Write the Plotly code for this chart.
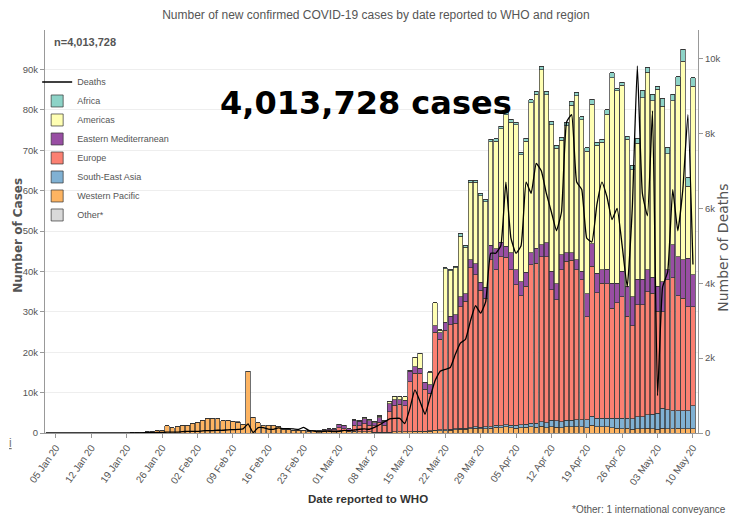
import pandas as pd
import plotly.graph_objects as go

dates = pd.date_range("2020-01-03", "2020-05-10", freq="D")

# daily new cases by region (Jan 3 .. May 10)
western_pacific = (
    [0] * 17 + [80, 150, 150, 260, 450, 600, 700, 1800, 1300, 1500, 1800, 1900]  # Jan
    + [2400, 2600, 3000, 3500, 3600, 3600, 3000, 3200, 2900, 2700, 2200, 15200, 3900, 2600,
       1800, 1800, 1800, 1500, 850, 850, 700, 600, 650, 450, 500, 450, 450, 500, 550]  # Feb
    + [600, 500, 300, 400, 350, 300, 250, 200, 200, 150, 200, 250, 250, 250, 300, 300, 300,
       350, 400, 500, 600, 600, 700, 750, 900, 900, 1000, 1200, 1100, 1100, 1200]  # Mar
    + [1400, 1300, 1500, 1300, 1200, 1300, 1400, 1500, 1400, 1700, 1300, 1500, 1400, 1300, 1600,
       1500, 1600, 1500, 1300, 1900, 1600, 1500, 1500, 1300, 1200, 1100, 1200, 900, 1100, 1000]  # Apr
    + [1200, 1000, 900, 1200, 1000, 1100, 1200, 1100, 1000, 1100]  # May
)
south_east_asia = (
    [0] * 29 + [0] * 29
    + [0, 0, 0, 5, 5, 10, 10, 10, 10, 10, 20, 20, 20, 30, 50, 100, 100, 100, 100, 150, 150,
       200, 200, 250, 250, 300, 300, 300, 350, 400, 400]
    + [500, 500, 500, 600, 700, 700, 800, 900, 1000, 1100, 1200, 1700, 1600, 1500, 1500,
       1600, 1700, 1800, 2000, 2200, 2000, 2100, 2200, 2300, 2400, 2500, 2400, 2600, 2900, 3000]
    + [3300, 3600, 4000, 4900, 4700, 4400, 4300, 4400, 4500, 5600]
)
europe = (
    [0] * 29
    + [0] * 21 + [20, 60, 150, 100, 150, 250, 300, 300]
    + [700, 600, 400, 1500, 1400, 2000, 1700, 1600, 2400, 1800, 5100, 6600, 6800, 6500, 12300,
       14400, 14400, 10350, 9300, 24350, 22500, 24600, 25900, 26200, 30150, 31400, 39600, 37700,
       33850, 31900, 41300]
    + [38500, 41900, 41500, 38500, 34800, 32000, 34100, 39300, 39700, 40900, 41200, 32300, 30000,
       37600, 39400, 39700, 37100, 34700, 25500, 37200, 31100, 33500, 33300, 27300, 28600, 30200,
       25300, 23000, 27800, 27800]
    + [30500, 30000, 25200, 23900, 32300, 32900, 28500, 27900, 25800, 24600]
)
eastern_med = (
    [0] * 29
    + [0] * 20 + [5, 10, 30, 40, 50, 100, 150, 200, 200]
    + [800, 800, 300, 1300, 1100, 1200, 1100, 700, 1200, 900, 1900, 1400, 1200, 1300, 2700, 1650,
       1250, 1650, 2100, 1500, 1600, 2000, 2100, 2100, 2400, 1900, 2000, 2700, 2000, 2700, 3600]
    + [5200, 3500, 2800, 4200, 3700, 3500, 3500, 2900, 3700, 2900, 3400, 4500, 4000, 3800, 2200,
       1900, 2500, 2000, 5700, 5600, 4900, 3300, 3600, 6200, 4900, 6200, 7400, 7300, 6300, 6300]
    + [5400, 4000, 6200, 7500, 2400, 8200, 9700, 9500, 12000, 7900]
)
americas = (
    [0] * 29
    + [0] * 28 + [20]
    + [50, 50, 50, 100, 150, 250, 300, 300, 400, 300, 600, 700, 750, 900, 200, 2300, 3600, 100,
       3200, 5700, 600, 13300, 11300, 11600, 15000, 11500, 19200, 20200, 21400, 21200, 25600]
    + [26700, 28200, 32500, 32400, 35900, 31400, 32500, 37200, 38100, 43300, 36700, 36300, 33500,
       28350, 31400, 36500, 40600, 37600, 35300, 34500, 31700, 31600, 38300, 50900, 47600, 46100,
       36500, 31400, 33600, 44900]
    + [48900, 43700, 48800, 43400, 28800, 35700, 42400, 49200, 17800, 46700]
)
africa = (
    [0] * 29 + [0] * 29
    + [0, 0, 0, 0, 5, 5, 10, 10, 10, 20, 20, 30, 30, 40, 50, 60, 60, 80, 100, 100, 100, 200, 200,
       400, 600, 500, 500, 500, 500, 500, 600]
    + [600, 600, 700, 700, 700, 600, 700, 700, 700, 800, 800, 800, 800, 750, 700, 800, 900, 700,
       800, 1200, 700, 700, 1200, 1200, 600, 800, 700, 1000, 1200, 1700]
    + [1200, 1600, 800, 1900, 1400, 1600, 2100, 2900, 2100, 2100]
)
other = (
    [0] * 29
    + [0, 0, 0, 0, 10, 10, 41, 3, 6, 65, 0, 39, 44, 0, 67, 70, 99, 88, 79, 13, 0, 57, 0, 0, 0, 14, 0, 0, 0]
    + [0] * 31 + [0] * 30 + [0] * 10
)
deaths = (
    [0] * 18 + [3, 6, 9, 8, 16, 15, 24, 26, 26, 38, 43]
    + [46, 45, 57, 64, 66, 73, 73, 86, 89, 97, 108, 245, 10, 145, 142, 105, 98, 136, 115, 118,
       109, 97, 150, 71, 52, 29, 44, 47, 35]
    + [42, 70, 60, 80, 100, 110, 100, 150, 220, 300, 380, 390, 390, 250, 650, 1150, 850, 500, 950,
       1400, 1650, 1700, 1750, 2100, 2400, 2500, 3000, 3400, 3200, 3500, 4800]
    + [4800, 5000, 6700, 5200, 4800, 5000, 6700, 6400, 7200, 7000, 6400, 5900, 5400, 5900, 8300,
       8500, 6700, 6500, 5200, 5100, 6100, 6700, 6300, 5700, 6000, 5000, 3900, 6000, 9800, 6400]
    + [5800, 8600, 1000, 3900, 4300, 6500, 5400, 6500, 8500, 4500]
)

SANS = "Liberation Sans, Arial, sans-serif"
GREY = "#555555"

regions = [
    ("Western Pacific", western_pacific, "#fdb462", 7),
    ("South-East Asia", south_east_asia, "#80b1d3", 6),
    ("Europe", europe, "#fb8072", 5),
    ("Eastern Mediterranean", eastern_med, "#984ea3", 4),
    ("Americas", americas, "#ffffb3", 3),
    ("Africa", africa, "#8dd3c7", 2),
    ("Other*", other, "#d9d9d9", 8),
]

fig = go.Figure()
for name, vals, color, rank in regions:
    fig.add_bar(x=dates, y=vals, name=name, legendrank=rank,
                marker=dict(color=color, line=dict(color="#333333", width=0.7)))

fig.add_scatter(x=dates, y=deaths, name="Deaths", yaxis="y2", mode="lines",
                line=dict(color="black", width=1.3, shape="spline", smoothing=0.4),
                legendrank=1)

# page body has an 8px margin, so the figure is 730x511 and sits at (8, 8)
fig.update_layout(
    width=730, height=511,
    barmode="stack", bargap=0.12,
    plot_bgcolor="white", paper_bgcolor="white",
    margin=dict(l=37, r=40, t=22, b=86),
    title=dict(text="Number of new confirmed COVID-19 cases by date reported to WHO and region",
               x=0.504, xanchor="center", y=0.994, yanchor="top", pad=dict(t=0),
               font=dict(family=SANS, size=12, color=GREY)),
    font=dict(family=SANS, size=10, color=GREY),
    legend=dict(x=-0.012, y=0.907, xanchor="left", yanchor="top", bgcolor="rgba(0,0,0,0)",
                font=dict(family=SANS, size=9, color=GREY), traceorder="normal"),
    xaxis=dict(type="date", range=["2020-01-02 20:00", "2020-05-11 00:00"],
               tickvals=pd.date_range("2020-01-05", "2020-05-10", freq="7D"),
               tickformat="%d %b %y", tickangle=-55, ticks="outside", ticklen=4,
               tickcolor="#999", showline=True, linecolor="#999", showgrid=False,
               automargin=False, tickfont=dict(family=SANS, size=10, color=GREY)),
    yaxis=dict(range=[0, 99800], dtick=10000, tickformat="~s", ticks="outside", ticklen=4,
               tickcolor="#999", showline=True, linecolor="#999", gridcolor="#eeeeee",
               zeroline=False, automargin=False, tickfont=dict(family=SANS, size=9.5, color=GREY)),
    yaxis2=dict(range=[0, 10760], dtick=2000, tickformat="~s", overlaying="y", side="right",
                ticks="outside", ticklen=4, tickcolor="#999", showline=True, linecolor="#999",
                showgrid=False, zeroline=False, automargin=False,
                tickfont=dict(family=SANS, size=9.5, color=GREY)),
)

fig.add_annotation(text="<b>Number of Cases</b>", x=-0.0425, y=0.49, xref="paper", yref="paper",
                   xanchor="center", yanchor="middle", textangle=-90, showarrow=False,
                   font=dict(family="DejaVu Sans", size=12, color=GREY))
fig.add_annotation(text="Number of Deaths", x=1.037, y=0.46, xref="paper", yref="paper",
                   xanchor="center", yanchor="middle", textangle=-90, showarrow=False,
                   font=dict(family="DejaVu Sans", size=14, color=GREY))
fig.add_annotation(text="<b>Date reported to WHO</b>", x=0.4946, y=-0.184, xref="paper",
                   yref="paper", showarrow=False,
                   font=dict(family=SANS, size=11.5, color="#333"))
fig.add_annotation(text="<b>n=4,013,728</b>", x=0.011, y=0.97, xref="paper", yref="paper",
                   xanchor="left", yanchor="middle", showarrow=False,
                   font=dict(family=SANS, size=11, color=GREY))
fig.add_annotation(text="<b>4,013,728 cases</b>", x=0.4916, y=0.819, xref="paper", yref="paper",
                   xanchor="center", yanchor="middle", showarrow=False,
                   font=dict(family="DejaVu Sans", size=32, color="black"))
fig.add_annotation(text="*Other: 1 international conveyance", x=1.046, y=-0.191,
                   xref="paper", yref="paper", xanchor="right", yanchor="middle",
                   showarrow=False, font=dict(family=SANS, size=10, color=GREY))
fig.add_annotation(text="<u>i</u>", x=-0.058, y=-0.047, xref="paper", yref="paper",
                   showarrow=False, font=dict(family=SANS, size=12, color="#777"))

fig.write_html("out.html")
